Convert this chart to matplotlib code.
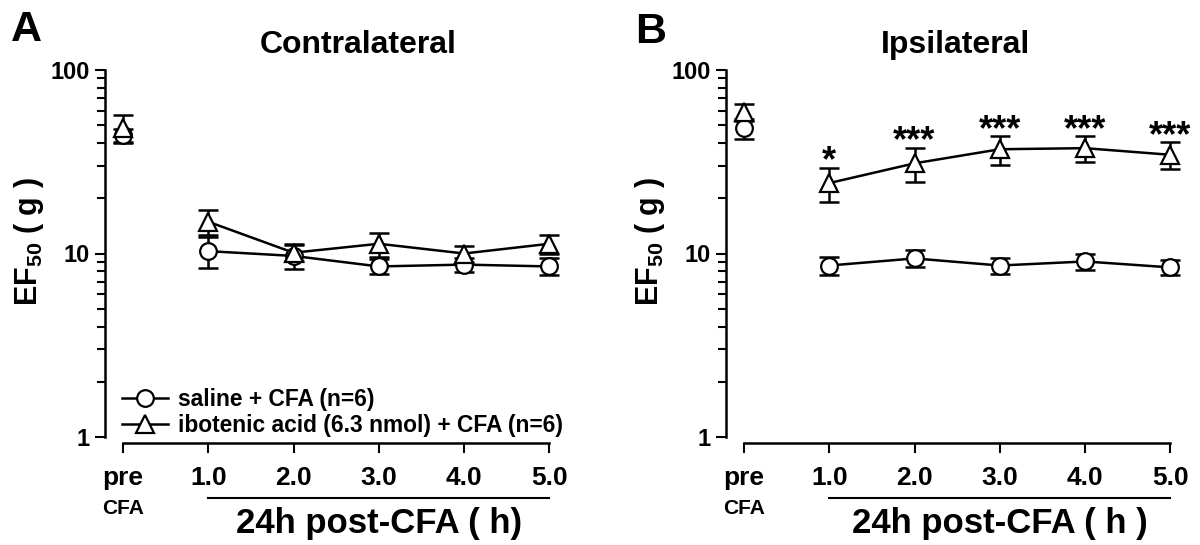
import matplotlib
matplotlib.use("Agg")
import matplotlib.pyplot as plt
import matplotlib.transforms as mtransforms
from matplotlib.lines import Line2D
from matplotlib.ticker import FixedLocator, LogLocator, NullFormatter

plt.rcParams["font.family"] = ["Liberation Sans", "DejaVu Sans"]
plt.rcParams["font.weight"] = "bold"
plt.rcParams["mathtext.fontset"] = "custom"
plt.rcParams["mathtext.rm"] = "Liberation Sans:bold"
plt.rcParams["mathtext.default"] = "rm"

# time points (pre-CFA plus 1-5 h after the 24h CFA injection)
time_pos = [0, 1, 2, 3, 4, 5]
time_labels = ["pre", "1.0", "2.0", "3.0", "4.0", "5.0"]

# EF50 (g), mean and SEM
contra_saline = [44.0, 10.3, 9.7, 8.5, 8.7, 8.5]
contra_saline_err = [3.7, 2.0, 1.5, 0.8, 0.75, 0.9]
contra_ibo = [48.5, 14.9, 10.1, 11.3, 10.0, 11.3]
contra_ibo_err = [8.5, 2.3, 1.0, 1.7, 1.0, 1.3]

ipsi_saline = [48.0, 8.6, 9.4, 8.6, 9.05, 8.4]
ipsi_saline_err = [6.0, 0.95, 1.0, 0.85, 0.9, 0.8]
ipsi_ibo = [59.0, 24.2, 31.0, 37.0, 37.5, 34.5]
ipsi_ibo_err = [6.0, 5.0, 6.5, 6.5, 6.0, 5.8]
ipsi_stars = ["", "*", "***", "***", "***", "***"]

W, H = 1200, 545
LW = 1.8


def px_axes(left, top, right, bottom):
    return [left / W, (H - bottom) / H, (right - left) / W, (bottom - top) / H]


def draw_series(ax, y, err, marker, ms):
    ax.errorbar(time_pos, y, yerr=err, fmt="none", ecolor="black",
                elinewidth=LW, capsize=7.5, capthick=LW, clip_on=False, zorder=2)
    ax.plot(time_pos[1:], y[1:], color="black", lw=LW, zorder=2)
    ax.plot(time_pos, y, ls="none", marker=marker, ms=ms, mfc="white",
            mec="black", mew=1.6, clip_on=False, zorder=3)


def panel(ax, saline, saline_err, ibo, ibo_err, title, title_x, xlabel):
    ax.set_yscale("log")
    ax.set_ylim(1, 100)
    ax.set_xlim(-0.21, 5.3)

    draw_series(ax, saline, saline_err, "o", 12)
    draw_series(ax, ibo, ibo_err, "^", 13)

    for side in ("top", "right"):
        ax.spines[side].set_visible(False)
    ax.spines["left"].set_linewidth(LW)
    ax.spines["bottom"].set_linewidth(LW)
    ax.spines["left"].set_bounds(1, 100)
    ax.spines["bottom"].set_bounds(0, 5)
    ax.spines["bottom"].set_position(("outward", 4))

    ax.yaxis.set_major_locator(FixedLocator([1, 10, 100]))
    ax.set_yticklabels(["1", "10", "100"])
    ax.yaxis.set_minor_locator(LogLocator(base=10, subs=range(2, 10)))
    ax.yaxis.set_minor_formatter(NullFormatter())
    ax.tick_params(axis="y", which="major", length=7, width=1.5,
                   labelsize=17, pad=4)
    ax.tick_params(axis="y", which="minor", length=6, width=1.5)

    ax.set_xticks(time_pos)
    ax.set_xticklabels(time_labels)
    ax.tick_params(axis="x", length=7, width=1.5, labelsize=19, pad=10)

    blend = mtransforms.blended_transform_factory(ax.transData, ax.transAxes)
    ax.text(0, -0.196, "CFA", transform=blend, ha="center", va="center",
            fontsize=15)
    ax.plot([1, 5], [-0.166, -0.166], transform=blend, color="black",
            lw=1.5, clip_on=False)
    ax.text(3, -0.236, xlabel, transform=blend, ha="center", va="center",
            fontsize=25)
    ax.text(title_x, 1.068, title, transform=ax.transAxes, ha="center",
            va="center", fontsize=23)


fig = plt.figure(figsize=(W / 100, H / 100), dpi=100)

ax_a = fig.add_axes(px_axes(105, 70, 575, 437))
panel(ax_a, contra_saline, contra_saline_err, contra_ibo, contra_ibo_err,
      "Contralateral", 0.539, "24h post-CFA ( h)")

handles = [
    Line2D([], [], color="black", lw=LW, marker="o", ms=12, mfc="white",
           mec="black", mew=1.6),
    Line2D([], [], color="black", lw=LW, marker="^", ms=13, mfc="white",
           mec="black", mew=1.6),
]
ax_a.legend(handles, ["saline + CFA (n=6)",
                      "ibotenic acid (6.3 nmol) + CFA (n=6)"],
            loc="lower left", bbox_to_anchor=(0.037, 0.0), frameon=False,
            fontsize=16.4, handlelength=2.0, handletextpad=0.45,
            labelspacing=0.15, borderpad=0, borderaxespad=0)

ax_b = fig.add_axes(px_axes(726, 70, 1196, 437))
panel(ax_b, ipsi_saline, ipsi_saline_err, ipsi_ibo, ipsi_ibo_err,
      "Ipsilateral", 0.488, "24h post-CFA ( h )")

for x, y, e, s in zip(time_pos, ipsi_ibo, ipsi_ibo_err, ipsi_stars):
    if s:
        ax_b.annotate(s, (x, y + e), xytext=(0, -2.5),
                      textcoords="offset points", ha="center",
                      va="baseline", fontsize=26)

fig.text(11.5 / W, (H - 242) / H, "EF$_{50}$ ( g )", rotation=90,
         ha="left", va="center", fontsize=22)
fig.text(633 / W, (H - 242) / H, "EF$_{50}$ ( g )", rotation=90,
         ha="left", va="center", fontsize=22)
fig.text(11 / W, 1 - 10 / H, "A", fontsize=31, va="top", ha="left")
fig.text(635 / W, 1 - 12 / H, "B", fontsize=31, va="top", ha="left")

fig.savefig("out.png", dpi=100)
